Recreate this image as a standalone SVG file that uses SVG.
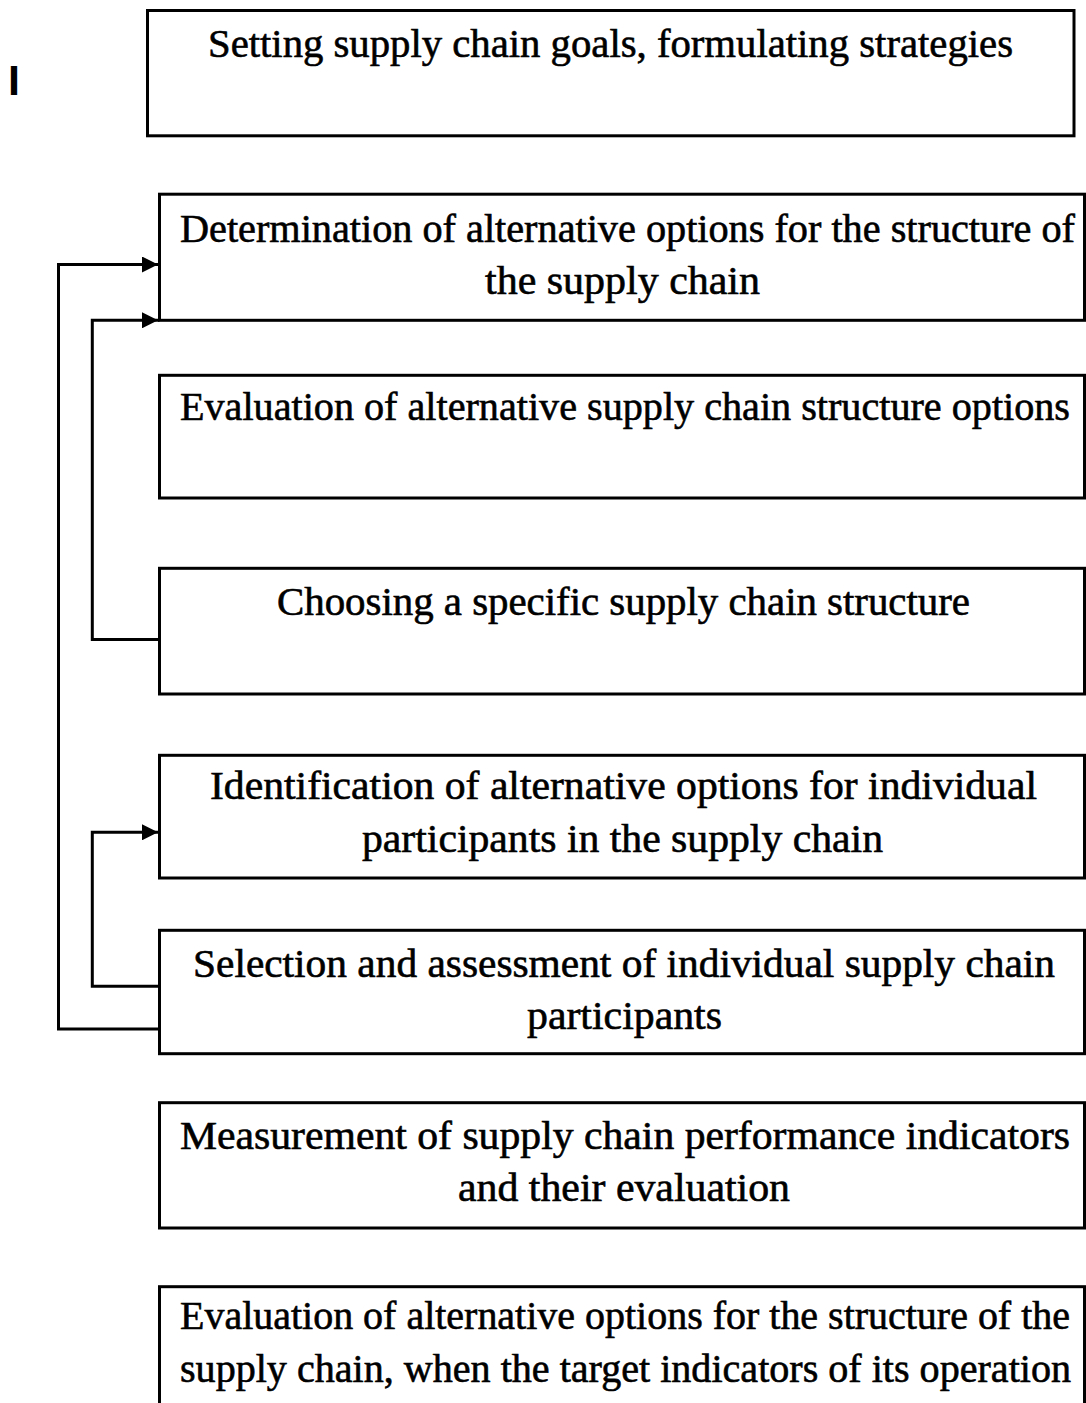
<svg xmlns="http://www.w3.org/2000/svg" width="1086" height="1403" viewBox="0 0 1086 1403">
  <defs>
    <style>
      .box { fill: #ffffff; stroke: #000000; stroke-width: 3; }
      .lbl { font-family: "Liberation Serif", "Times New Roman", serif; font-size: 40px; fill: #000000; stroke: #000000; stroke-width: 0.6px; }
      .mark { font-family: "Liberation Sans", Arial, sans-serif; font-weight: bold; font-size: 43px; fill: #000000; }
      .link { fill: none; stroke: #000000; stroke-width: 3; stroke-linejoin: miter; stroke-linecap: square; }
    </style>
    <marker id="arrow" markerUnits="userSpaceOnUse" viewBox="0 0 16 16" refX="16" refY="8" markerWidth="16" markerHeight="16" orient="auto">
      <path d="M0,0 L16,8 L0,16 z" fill="#000000"/>
    </marker>
  </defs>

  <rect width="1086" height="1403" fill="#ffffff"/>

  <!-- margin mark -->
  <text class="mark" x="8" y="95">I</text>

  <!-- process steps -->
  <g id="step-goals">
    <rect class="box" x="147.5" y="10.5" width="926.5" height="125.3"/>
    <text class="lbl" x="208" y="57" textLength="805" lengthAdjust="spacingAndGlyphs">Setting supply chain goals, formulating strategies</text>
  </g>

  <g id="step-structure-options">
    <rect class="box" x="159.5" y="194.2" width="925" height="126.1"/>
    <text class="lbl" x="180" y="242" textLength="895" lengthAdjust="spacingAndGlyphs">Determination of alternative options for the structure of</text>
    <text class="lbl" x="485" y="294" textLength="275" lengthAdjust="spacingAndGlyphs">the supply chain</text>
  </g>

  <g id="step-structure-evaluation">
    <rect class="box" x="159.5" y="375.3" width="925" height="122.7"/>
    <text class="lbl" x="180" y="420" textLength="890" lengthAdjust="spacingAndGlyphs">Evaluation of alternative supply chain structure options</text>
  </g>

  <g id="step-structure-choice">
    <rect class="box" x="159.5" y="568.3" width="925" height="125.7"/>
    <text class="lbl" x="277" y="615" textLength="693" lengthAdjust="spacingAndGlyphs">Choosing a specific supply chain structure</text>
  </g>

  <g id="step-participant-options">
    <rect class="box" x="159.5" y="755.3" width="925" height="122.7"/>
    <text class="lbl" x="210" y="799" textLength="827" lengthAdjust="spacingAndGlyphs">Identification of alternative options for individual</text>
    <text class="lbl" x="362" y="852" textLength="521" lengthAdjust="spacingAndGlyphs">participants in the supply chain</text>
  </g>

  <g id="step-participant-selection">
    <rect class="box" x="159.5" y="930.3" width="925" height="123.4"/>
    <text class="lbl" x="193" y="977" textLength="862" lengthAdjust="spacingAndGlyphs">Selection and assessment of individual supply chain</text>
    <text class="lbl" x="527" y="1029" textLength="195" lengthAdjust="spacingAndGlyphs">participants</text>
  </g>

  <g id="step-performance">
    <rect class="box" x="159.5" y="1102.7" width="925" height="125.3"/>
    <text class="lbl" x="180" y="1149" textLength="890" lengthAdjust="spacingAndGlyphs">Measurement of supply chain performance indicators</text>
    <text class="lbl" x="458" y="1201" textLength="332" lengthAdjust="spacingAndGlyphs">and their evaluation</text>
  </g>

  <g id="step-reevaluation">
    <rect class="box" x="159.5" y="1286.7" width="925" height="160"/>
    <text class="lbl" x="180" y="1329" textLength="890" lengthAdjust="spacingAndGlyphs">Evaluation of alternative options for the structure of the</text>
    <text class="lbl" x="180" y="1382" textLength="891" lengthAdjust="spacingAndGlyphs">supply chain, when the target indicators of its operation</text>
  </g>

  <!-- feedback loops -->
  <g id="connectors">
    <path class="link" d="M158,1029 H58.5 V264.5 H158" marker-end="url(#arrow)"/>
    <path class="link" d="M158,639.5 H92.3 V320.3 H158" marker-end="url(#arrow)"/>
    <path class="link" d="M158,986.2 H92.3 V832.3 H158" marker-end="url(#arrow)"/>
  </g>
</svg>
